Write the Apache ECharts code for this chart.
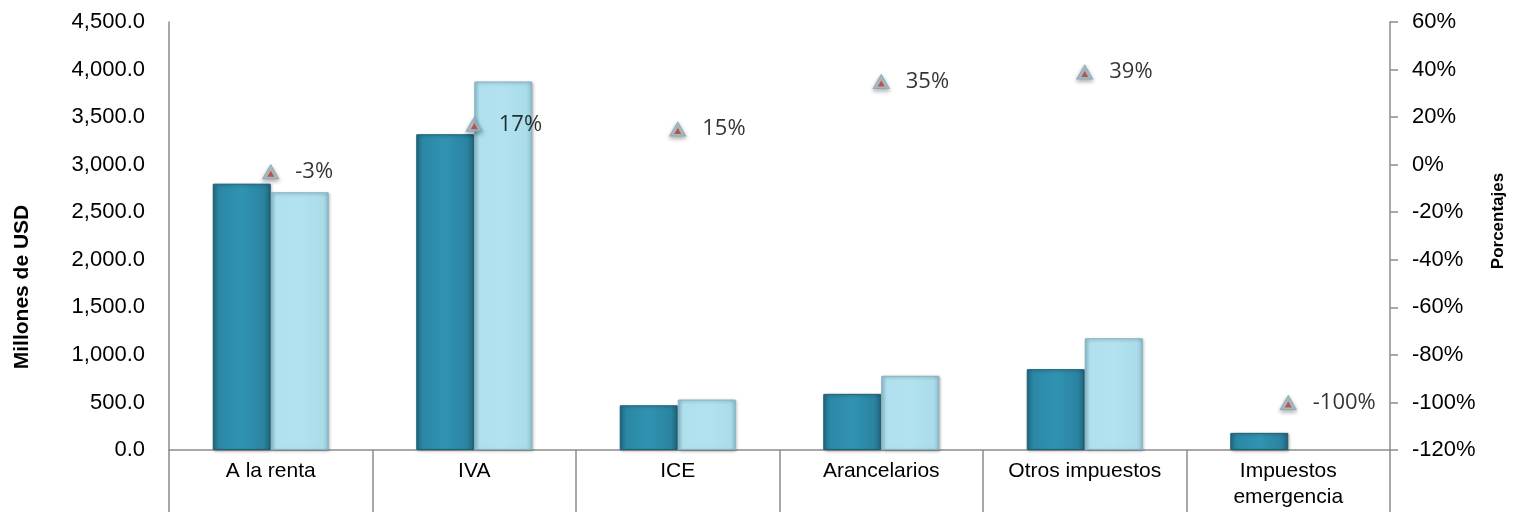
<!DOCTYPE html>
<html>
<head>
<meta charset="utf-8">
<script src="https://cdn.jsdelivr.net/npm/echarts@6/dist/echarts.min.js"></script>
<style>
html,body{margin:0;padding:0;background:#fff;}
#chart{width:1515px;height:512px;}
</style>
</head>
<body>
<div id="chart"></div>
<script>
var categories = ['A la renta', 'IVA', 'ICE', 'Arancelarios', 'Otros impuestos', 'Impuestos\nemergencia'];
var valoresAnterior = [2800, 3320, 470, 590, 850, 180];
var valoresActual = [2710, 3875, 530, 780, 1175, 0];
var variacion = [-3, 17, 15, 35, 39, -100];
var leftTicks = {min: 0, max: 4500, interval: 500};
var rightTicks = {min: -120, max: 60, interval: 20};

var chart = echarts.init(document.getElementById('chart'));
var axisColor = '#8c8c8c';
var txt = '#000';
function fmtNum(v){ return v.toLocaleString('en-US', {minimumFractionDigits:1, maximumFractionDigits:1}); }

var darkFill = new echarts.graphic.LinearGradient(0,0,1,0,[
  {offset:0, color:'#236f88'},{offset:0.12, color:'#2b88a6'},{offset:0.5, color:'#3193b2'},{offset:0.88, color:'#2a84a1'},{offset:1, color:'#1f6479'}]);
var lightFill = new echarts.graphic.LinearGradient(0,0,1,0,[
  {offset:0, color:'#93c9da'},{offset:0.1, color:'#b0e0ee'},{offset:0.5, color:'#b2e2ef'},{offset:0.9, color:'#abdcea'},{offset:1, color:'#8fc2d2'}]);

// zero-height bars are not drawn at all (no border line)
var actualData = valoresActual.map(function(v){
  return v === 0 ? {value: v, itemStyle: {opacity: 0}} : v;
});

chart.setOption({
  animation: false,
  grid: {left: 169, right: 124, top: 22, bottom: 62, containLabel: false},
  xAxis: {
    type: 'category',
    data: categories,
    boundaryGap: true,
    axisLine: {show: true, lineStyle: {color: axisColor, width: 1.5}},
    axisTick: {show: true, length: 62, lineStyle: {color: axisColor, width: 1.5}},
    axisLabel: {color: txt, fontFamily: 'Liberation Sans, Arial, sans-serif', fontSize: 21, margin: 8, verticalAlign: 'top', lineHeight: 26, interval: 0}
  },
  yAxis: [{
    type: 'value',
    min: leftTicks.min, max: leftTicks.max, interval: leftTicks.interval,
    name: 'Millones de USD',
    nameLocation: 'middle', nameGap: 136, nameRotate: 90,
    nameTextStyle: {color: txt, fontFamily: 'Liberation Sans, Arial, sans-serif', fontWeight: 'bold', fontSize: 21, padding: [0, 102, 0, 0]},
    axisLine: {show: true, lineStyle: {color: axisColor, width: 1.5}},
    axisTick: {show: false},
    splitLine: {show: false},
    axisLabel: {color: txt, fontFamily: 'Liberation Sans, Arial, sans-serif', fontSize: 22, margin: 24, formatter: fmtNum}
  }, {
    type: 'value',
    position: 'right',
    min: rightTicks.min, max: rightTicks.max, interval: rightTicks.interval,
    name: 'Porcentajes',
    nameLocation: 'middle', nameGap: 100, nameRotate: 90,
    nameTextStyle: {color: txt, fontFamily: 'Liberation Sans, Arial, sans-serif', fontWeight: 'bold', fontSize: 17, padding: [0, 0, 0, 30]},
    axisLine: {show: true, lineStyle: {color: axisColor, width: 1.5}},
    axisTick: {show: true, inside: false, length: 8, lineStyle: {color: axisColor, width: 1.5}},
    splitLine: {show: false},
    axisLabel: {color: txt, fontFamily: 'Liberation Sans, Arial, sans-serif', fontSize: 22, margin: 22, formatter: function(v){return v + '%';}}
  }],
  series: [{
    name: 'Anterior', type: 'bar', yAxisIndex: 0, data: valoresAnterior,
    barWidth: 58, barGap: '0%',
    itemStyle: {color: darkFill, borderColor: '#1d5f73', borderWidth: 1, shadowBlur: 3, shadowColor: 'rgba(0,0,0,0.3)', shadowOffsetX: 1, shadowOffsetY: 1}
  }, {
    name: 'Actual', type: 'bar', yAxisIndex: 0, data: actualData,
    barWidth: 58, barGap: '0%',
    itemStyle: {color: lightFill, borderColor: '#87b3c1', borderWidth: 1, shadowBlur: 3, shadowColor: 'rgba(0,0,0,0.3)', shadowOffsetX: 1, shadowOffsetY: 1}
  }, {
    name: 'Variación', type: 'scatter', yAxisIndex: 1, data: variacion,
    symbol: 'triangle', symbolSize: [16, 14], z: 5,
    itemStyle: {color: '#a9c0ca', borderColor: '#8aa5b1', borderWidth: 1, shadowBlur: 4, shadowColor: 'rgba(0,0,0,0.4)', shadowOffsetY: 2},
    label: {show: true, position: 'right', distance: 16, color: txt, fontFamily: 'Open Sans, sans-serif', fontSize: 22,
      formatter: function(p){ return p.value + '%'; }}
  }, {
    name: 'Variación (centro)', type: 'scatter', yAxisIndex: 1, data: variacion,
    symbol: 'triangle', symbolSize: [7, 6], symbolOffset: [0, 2], z: 6, silent: true,
    itemStyle: {color: '#c0392b'}
  }]
});
</script>
</body>
</html>
